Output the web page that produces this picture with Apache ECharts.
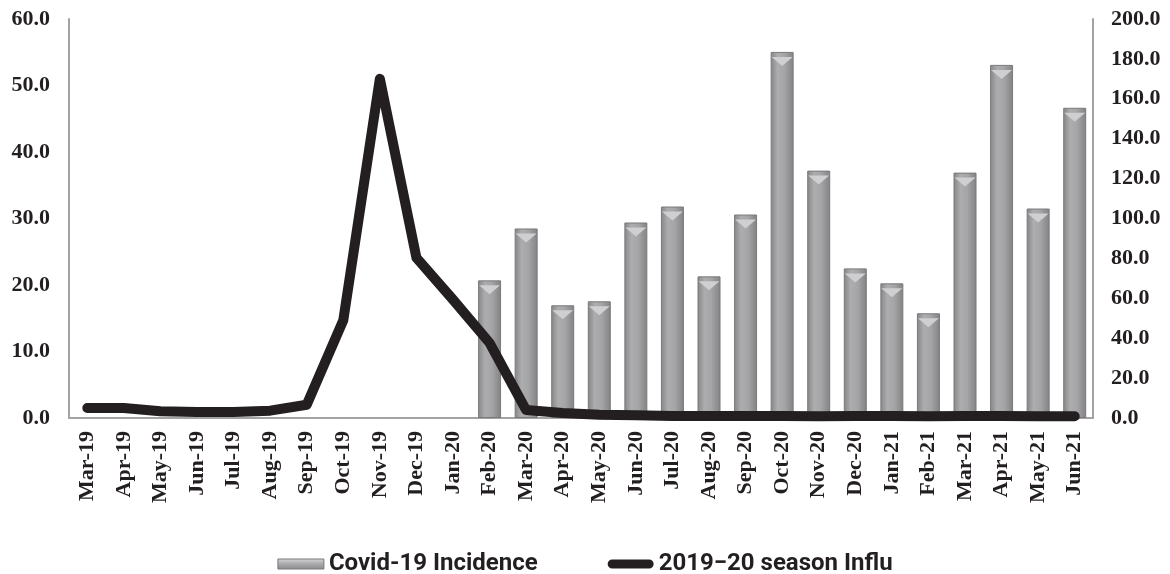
<!DOCTYPE html>
<html>
<head>
<meta charset="utf-8">
<script src="https://cdn.jsdelivr.net/npm/echarts@6/dist/echarts.min.js"></script>
<style>
  html, body { margin: 0; padding: 0; background: #fff; }
  #chart { width: 1170px; height: 574px; }
</style>
</head>
<body>
<div id="chart"></div>
<script>
  // months on the x axis
  var months = ['Mar-19', 'Apr-19', 'May-19', 'Jun-19', 'Jul-19', 'Aug-19', 'Sep-19', 'Oct-19', 'Nov-19', 'Dec-19',
    'Jan-20', 'Feb-20', 'Mar-20', 'Apr-20', 'May-20', 'Jun-20', 'Jul-20', 'Aug-20', 'Sep-20', 'Oct-20',
    'Nov-20', 'Dec-20', 'Jan-21', 'Feb-21', 'Mar-21', 'Apr-21', 'May-21', 'Jun-21']

  // Covid-19 incidence (right axis)
  var covid = [null, null, null, null, null, null, null, null, null, null,
    null, 69, 95, 56.5, 58.5, 98, 106, 71, 102, 183.5,
    124, 75, 67.5, 52.5, 123, 177, 105, 155.5]

  // 2019-20 season influenza (left axis)
  var influ = [1.5, 1.5, 1.0, 0.9, 0.9, 1.1, 2.0, 14.7, 51, 24.1,
    17.8, 11.3, 1.2, 0.75, 0.5, 0.4, 0.3, 0.3, 0.3, 0.3,
    0.25, 0.3, 0.3, 0.25, 0.3, 0.3, 0.25, 0.25]

  var leftTicks = {min: 0, max: 60, interval: 10}
  var rightTicks = {min: 0, max: 200, interval: 20}

  var myChart = echarts.init(document.getElementById('chart'))

  var labelFont = {
    fontFamily: 'Liberation Serif',
    fontWeight: 'bold',
    fontSize: 22,
    color: '#231f20'
  }

  var barFill = new echarts.graphic.LinearGradient(0, 0, 1, 0, [
    {offset: 0, color: '#858587'},
    {offset: 0.3, color: '#adadaf'},
    {offset: 0.6, color: '#a5a5a7'},
    {offset: 1, color: '#828284'}
  ])

  var legendBar = new echarts.graphic.LinearGradient(0, 0, 0, 1, [
    {offset: 0, color: '#d6d6d8'},
    {offset: 0.5, color: '#a9a9ab'},
    {offset: 1, color: '#8a8a8c'}
  ])

  myChart.setOption({
    animation: false,
    grid: {left: 69, right: 77, top: 19, bottom: 156},
    legend: {
      bottom: -7,
      left: 'center',
      itemGap: 70,
      itemWidth: 46,
      itemHeight: 10,
      textStyle: {
        fontFamily: "'Liberation Sans Narrow', Roboto, sans-serif",
        fontWeight: 'bold',
        fontSize: 24,
        color: '#231f20'
      },
      data: [
        {name: 'Covid-19 Incidence', icon: 'rect',
          itemStyle: {color: legendBar, borderColor: '#7a7a7c', borderWidth: 1}},
        {name: '2019\u221220 season Influ',
          icon: 'path://M5,0 L45,0 A5,5 0 0 1 45,10 L5,10 A5,5 0 0 1 5,0 Z',
          itemStyle: {color: '#231f20'}}
      ]
    },
    xAxis: {
      type: 'category',
      data: months,
      axisLine: {lineStyle: {color: '#a3a3a3', width: 2}},
      axisTick: {show: false},
      axisLabel: Object.assign({rotate: 90, margin: 13, interval: 0}, labelFont)
    },
    yAxis: [{
      type: 'value',
      min: leftTicks.min,
      max: leftTicks.max,
      interval: leftTicks.interval,
      axisLine: {show: true, lineStyle: {color: '#a3a3a3', width: 2}},
      axisTick: {show: false},
      splitLine: {show: false},
      axisLabel: Object.assign({margin: 19, formatter: function (v) { return v.toFixed(1) }}, labelFont)
    }, {
      type: 'value',
      min: rightTicks.min,
      max: rightTicks.max,
      interval: rightTicks.interval,
      axisLine: {show: true, lineStyle: {color: '#a3a3a3', width: 2}},
      axisTick: {show: false},
      splitLine: {show: false},
      axisLabel: Object.assign({margin: 18, formatter: function (v) { return v.toFixed(1) }}, labelFont)
    }],
    series: [{
      name: 'Covid-19 Incidence',
      type: 'bar',
      yAxisIndex: 1,
      barWidth: 23,
      data: covid,
      itemStyle: {color: barFill, borderColor: '#7a7a7c', borderWidth: 1}
    }, {
      // light bevel at the top of each bar
      name: 'bevel',
      type: 'pictorialBar',
      yAxisIndex: 1,
      symbol: 'triangle',
      symbolRotate: 180,
      symbolSize: [21, 9],
      symbolPosition: 'end',
      symbolOffset: [0, 5],
      barGap: '-100%',
      z: 3,
      data: covid,
      itemStyle: {color: '#cfcfd1'}
    }, {
      name: '2019\u221220 season Influ',
      type: 'line',
      yAxisIndex: 0,
      data: influ,
      symbol: 'none',
      z: 5,
      lineStyle: {color: '#231f20', width: 10, cap: 'round', join: 'round'},
      itemStyle: {color: '#231f20'}
    }]
  })
</script>
</body>
</html>
